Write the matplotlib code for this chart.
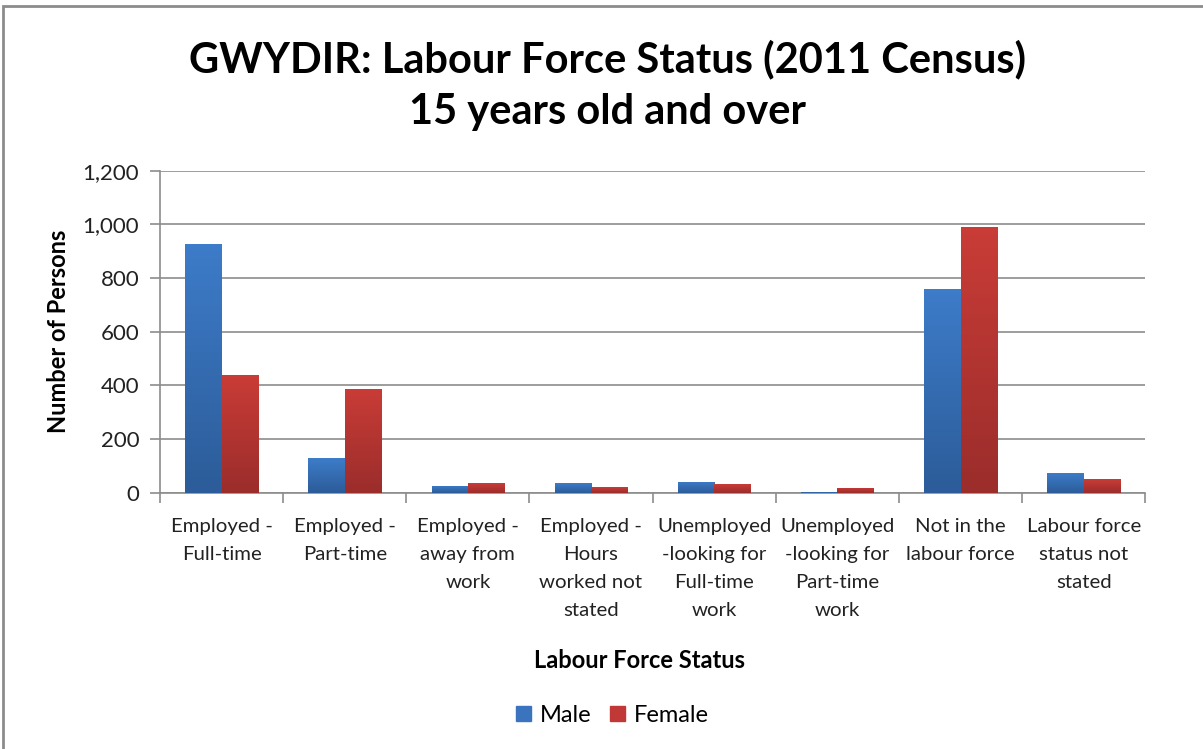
import numpy as np
import matplotlib
matplotlib.use('Agg')
from matplotlib import pyplot as plt
from matplotlib.patches import Rectangle, Patch

plt.rcParams['font.family'] = ['Lato', 'DejaVu Sans']

categories = ['Employed -\nFull-time', 'Employed -\nPart-time',
              'Employed -\naway from\nwork', 'Employed -\nHours\nworked not\nstated',
              'Unemployed\n-looking for\nFull-time\nwork', 'Unemployed\n-looking for\nPart-time\nwork',
              'Not in the\nlabour force', 'Labour force\nstatus not\nstated']
male = [928, 128, 27, 37, 41, 5, 760, 73]
female = [440, 388, 37, 22, 32, 19, 991, 51]
yticks = [0, 200, 400, 600, 800, 1000, 1200]

fig = plt.figure(figsize=(12.03, 7.49), dpi=100)
ax = fig.add_axes([0.133, 0.342, 0.819, 0.430])

x = np.arange(len(categories))
w = 0.295

def grad_bars(xs, vals, top, bottom):
    bars = ax.bar(xs, vals, w, color=top, zorder=3, linewidth=0)
    cmap = matplotlib.colors.LinearSegmentedColormap.from_list('g', [bottom, top])
    for b in bars:
        x0, y0 = b.get_x(), b.get_y()
        im = ax.imshow(np.linspace(0, 1, 64).reshape(-1, 1), cmap=cmap, origin='lower',
                       extent=[x0, x0 + b.get_width(), y0, y0 + b.get_height()],
                       aspect='auto', zorder=3.5)
        im.set_clip_path(b)
    return bars

grad_bars(x - w / 2, male, '#3d7cc9', '#2c5c99')
grad_bars(x + w / 2, female, '#c93c37', '#9b2d2b')

ax.set_xlim(-0.5, len(categories) - 0.5)
ax.set_ylim(0, 1200)
ax.set_yticks(yticks)
ax.set_yticklabels(['{:,}'.format(v) for v in yticks], fontsize=16)
ax.yaxis.grid(True, color='#8c8c8c', linewidth=1.2, zorder=0)
ax.set_axisbelow(True)

ax.set_xticks(np.arange(len(categories) + 1) - 0.5)
ax.set_xticklabels([])
ax.set_xticks(x, minor=True)
ax.set_xticklabels(categories, minor=True, fontsize=14.7, linespacing=1.78, color='#222222')
ax.tick_params(axis='x', which='minor', length=0, pad=18)
ax.tick_params(axis='x', which='major', length=7, color='#8c8c8c', width=1.2)
ax.tick_params(axis='y', length=7, color='#8c8c8c', width=1.2, pad=8, labelcolor='#222222')

for s in ['top', 'right']:
    ax.spines[s].set_visible(False)
for s in ['left', 'bottom']:
    ax.spines[s].set_color('#8c8c8c')
    ax.spines[s].set_linewidth(1.2)

ax.set_ylabel('Number of Persons', fontsize=17, fontweight='bold', labelpad=9)
fig.text(0.532, 0.118, 'Labour Force Status', ha='center', va='center',
         fontsize=17, fontweight='bold')

fig.text(0.505, 0.886, 'GWYDIR: Labour Force Status (2011 Census)\n15 years old and over',
         ha='center', va='center', fontsize=30, fontweight='bold', linespacing=1.45)

handles = [Patch(color='#3a74bf', label='Male'), Patch(color='#c13936', label='Female')]
fig.legend(handles=handles, loc='center', bbox_to_anchor=(0.509, 0.045), ncol=2,
           frameon=False, fontsize=17, handlelength=0.65, handleheight=0.65,
           handletextpad=0.35, columnspacing=0.8)

# outer chart frame
fig.patches.append(Rectangle((3 / 1203, -0.01), 1.02, (749 - 6) / 749 + 0.01,
                             transform=fig.transFigure, fill=False,
                             edgecolor='#8c8c8c', linewidth=2))

fig.savefig('out.png', dpi=100)
